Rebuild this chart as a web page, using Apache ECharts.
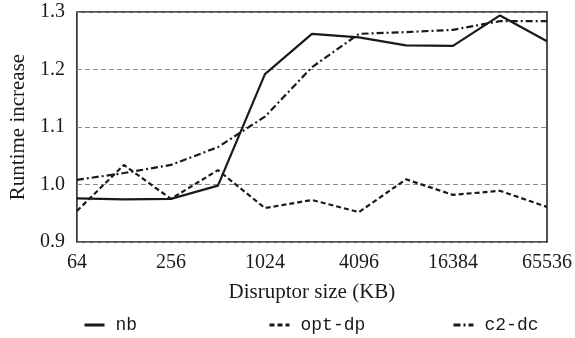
<!DOCTYPE html>
<html>
<head>
<meta charset="utf-8">
<script src="https://cdn.jsdelivr.net/npm/echarts@6/dist/echarts.min.js"></script>
<style>
  html, body { margin: 0; padding: 0; background: #fff; }
  #chart { width: 575px; height: 338px; }
</style>
</head>
<body>
<div id="chart"></div>
<script>
// disruptor sizes (KB), one point per doubling
var sizes = ['64', '128', '256', '512', '1024', '2048', '4096', '8192', '16384', '32768', '65536'];
var nb = [0.976, 0.974, 0.975, 0.998, 1.192, 1.262, 1.256, 1.242, 1.241, 1.294, 1.249];
var optDp = [0.954, 1.034, 0.975, 1.025, 0.959, 0.973, 0.952, 1.009, 0.982, 0.989, 0.961];
var c2Dc = [1.008, 1.020, 1.034, 1.065, 1.118, 1.204, 1.262, 1.265, 1.269, 1.284, 1.284];
var yTicks = [0.9, 1.0, 1.1, 1.2, 1.3];

var serif = 'Liberation Serif';
var mono = 'Liberation Mono';
var ink = '#1a1a1a';

var myChart = echarts.init(document.getElementById('chart'), null, {renderer: 'canvas'});

// one legend per series so each sits where the reference puts it
function legendAt(name, left) {
    return {
        data: [name],
        left: left,
        top: 316,
        padding: 0,
        itemWidth: 20,
        itemHeight: 16,
        lineStyle: {width: 3},
        itemStyle: {color: 'rgba(0,0,0,0)', borderColor: 'rgba(0,0,0,0)', borderWidth: 0},
        textStyle: {fontFamily: mono, fontSize: 18, color: ink, padding: [0, 0, 0, 6]}
    };
}

var option = {
    animation: false,
    backgroundColor: '#fff',
    grid: {
        left: 72, right: 25, top: 12, bottom: 96,
        show: true, borderColor: ink, borderWidth: 1.5
    },
    legend: [
        legendAt('nb', 83),
        legendAt('opt-dp', 268),
        legendAt('c2-dc', 452)
    ],
    xAxis: {
        type: 'category',
        boundaryGap: false,
        data: sizes,
        name: 'Disruptor size (KB)',
        nameLocation: 'middle',
        nameGap: 40,
        nameTextStyle: {fontFamily: serif, fontSize: 21, color: ink},
        axisLine: {show: false},
        axisTick: {show: false},
        axisLabel: {interval: 1, margin: 11, fontFamily: serif, fontSize: 20, color: ink},
        splitLine: {show: false}
    },
    yAxis: {
        type: 'value',
        min: yTicks[0],
        max: yTicks[yTicks.length - 1],
        interval: 0.1,
        name: 'Runtime increase',
        nameLocation: 'middle',
        nameGap: 46,
        nameTextStyle: {fontFamily: serif, fontSize: 21, color: ink},
        axisLine: {show: false},
        axisTick: {show: false},
        axisLabel: {
            margin: 12, fontFamily: serif, fontSize: 20, color: ink,
            formatter: function (v) { return v.toFixed(1); }
        },
        splitLine: {show: true, lineStyle: {color: '#8a8a8a', width: 1, type: [5, 3]}}
    },
    series: [
        {
            name: 'nb', type: 'line', data: nb, symbol: 'none',
            lineStyle: {color: ink, width: 2.2, type: 'solid'},
            itemStyle: {color: ink}
        },
        {
            name: 'opt-dp', type: 'line', data: optDp, symbol: 'none',
            lineStyle: {color: ink, width: 2.2, type: [5, 3]},
            itemStyle: {color: ink}
        },
        {
            name: 'c2-dc', type: 'line', data: c2Dc, symbol: 'none',
            lineStyle: {color: ink, width: 2.2, type: [7, 3, 2, 3]},
            itemStyle: {color: ink}
        }
    ]
};

myChart.setOption(option);
</script>
</body>
</html>
